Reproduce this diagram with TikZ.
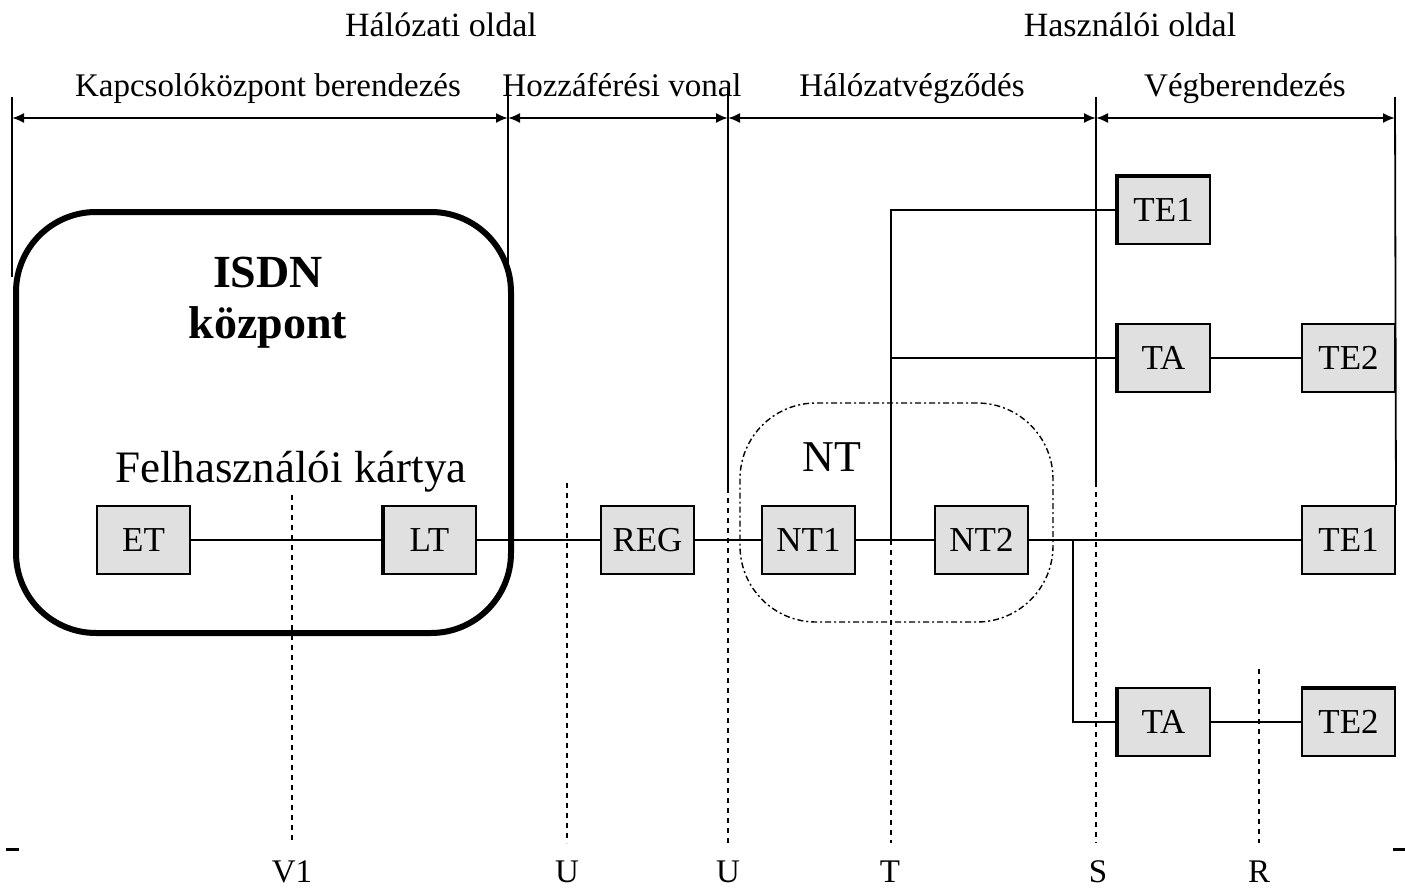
\documentclass[tikz,border=0pt]{standalone}
\usepackage{fontspec}
\setmainfont{Liberation Serif}
\usetikzlibrary{arrows.meta}
\definecolor{boxgray}{RGB}{224,224,224}
\begin{document}
\begin{tikzpicture}[x=0.5pt,y=-0.5pt,
  dev/.style={draw=black, line width=1pt, fill=boxgray, minimum width=46.5pt, minimum height=34pt, inner sep=0pt, font=\fontsize{17.5}{20}\selectfont},
  wire/.style={line width=1pt},
  iface/.style={line width=1pt, dash pattern=on 2.5pt off 2.5pt},
  bound/.style={line width=0.9pt},
  span/.style={line width=1pt, {Latex[length=6pt,width=5pt]}-{Latex[length=6pt,width=5pt]}},
  edge3d/.style={line width=2pt},
  lbl/.style={font=\fontsize{16.5}{20}\selectfont, anchor=base, inner sep=0pt},
  big/.style={font=\fontsize{22.5}{26}\selectfont, anchor=base, inner sep=0pt},
  bigbold/.style={font=\fontsize{23}{26}\selectfont\bfseries, anchor=base, inner sep=0pt},
]
\useasboundingbox (0,0) rectangle (1405,894);
\fill[white] (0,0) rectangle (1405,894);

% headers
\node[lbl,font=\fontsize{17}{20}\selectfont] (hnet) at (441,37) {Hálózati oldal};
\node[lbl,font=\fontsize{17}{20}\selectfont] (huser) at (1130,37) {Használói oldal};
\node[lbl] (s1) at (268,97) {Kapcsolóközpont berendezés};
\node[lbl] (s2) at (622,97) {Hozzáférési vonal};
\node[lbl] (s3) at (912,97) {Hálózatvégződés};
\node[lbl] (s4) at (1245,97) {Végberendezés};

% boundary lines
\draw[bound] (12,97) -- (12,277);
\draw[bound] (508,88) -- (508,263);
\draw[bound] (728,88) -- (728,488);
\draw[bound] (1096,97) -- (1096,482);
\draw[span] (12,118) -- (508,118);
\draw[span] (508,118) -- (728,118);
\draw[span] (728,118) -- (1096,118);
\draw[span] (1096,118) -- (1395,118);

% ISDN exchange box
\node[draw, line width=3pt, rounded corners=40pt, minimum width=247.5pt, minimum height=210.5pt, inner sep=0pt] (isdn) at (263.5,422.5) {};
\node[bigbold] (isdnt) at (268,287) {ISDN};
\node[bigbold] (kozp) at (268,338) {központ};
\node[big] (card) at (291,482) {Felhasználói kártya};

% NT region
\node[draw, line width=0.7pt, dash pattern=on 3pt off 1.5pt on 1pt off 1.5pt, rounded corners=38pt, minimum width=156.5pt, minimum height=109.5pt, inner sep=0pt] (ntreg) at (896.5,512.5) {};
\node[big,font=\fontsize{22}{26}\selectfont] (ntl) at (832,471) {NT};

% interface dotted lines
\draw[iface] (292,495) -- (292,843);
\draw[iface] (567,483) -- (567,843);
\draw[iface] (728,488) -- (728,843);
\draw[iface] (891,540) -- (891,843);
\draw[iface] (1096,482) -- (1096,843);
\draw[iface] (1259,669) -- (1259,843);

% devices
\node[dev] (ET) at (143.5,540) {ET};
\node[dev] (LT) at (429.5,540) {LT};
\node[dev] (REG) at (647.5,540) {REG};
\node[dev] (NT1) at (808.5,540) {NT1};
\node[dev] (NT2) at (981.5,540) {NT2};
\node[dev] (TE1b) at (1348.5,540) {TE1};
\node[dev] (TE1a) at (1163.5,210) {TE1};
\node[dev] (TAa) at (1163.5,358) {TA};
\node[dev] (TE2a) at (1348.5,358) {TE2};
\node[dev] (TAb) at (1163.5,722) {TA};
\node[dev] (TE2b) at (1348.5,722) {TE2};

% 3D edges
\draw[edge3d] ([xshift=0.5pt]LT.south west) -- ([xshift=0.5pt]LT.north west);
\draw[edge3d] ([xshift=0.5pt]TE1a.south west) -- ([xshift=0.5pt,yshift=-0.5pt]TE1a.north west) -- ([yshift=-0.5pt]TE1a.north east);
\draw[edge3d] ([xshift=0.5pt]TAa.south west) -- ([xshift=0.5pt]TAa.north west);
\draw[edge3d] ([xshift=0.5pt]TAb.south west) -- ([xshift=0.5pt]TAb.north west);
\draw[edge3d] ([yshift=-0.5pt]TE2b.north west) -- ([yshift=-0.5pt]TE2b.north east);

% right boundary
\draw[bound] (1395,97) -- (TE1b.north east);

% connectors
\coordinate (jT) at (891,540);
\coordinate (tMid) at (891,358);
\coordinate (jS) at (1073,540);
\draw[wire] (ET) -- (LT);
\draw[wire] (LT) -- (REG);
\draw[wire] (REG) -- (NT1);
\draw[wire] (NT1) -- (NT2);
\draw[wire] (NT2) -- (TE1b);
\draw[wire] (jT) |- (TE1a.west);
\draw[wire] (tMid) -- (TAa.west);
\draw[wire] (TAa) -- (TE2a);
\draw[wire] (jS) |- (TAb.west);
\draw[wire] (TAb) -- (TE2b);

% edge ticks
\draw[line width=1.5pt] (6,849) -- (19,849);
\draw[line width=1.5pt] (1393,849) -- (1405,849);

% interface labels
\node[lbl] (v1) at (292,882) {V1};
\node[lbl] (u1) at (567,882) {U};
\node[lbl] (u2) at (728,882) {U};
\node[lbl] (tl) at (890,882) {T};
\node[lbl] (sl) at (1098,882) {S};
\node[lbl] (rl) at (1259,882) {R};
\end{tikzpicture}
\end{document}
